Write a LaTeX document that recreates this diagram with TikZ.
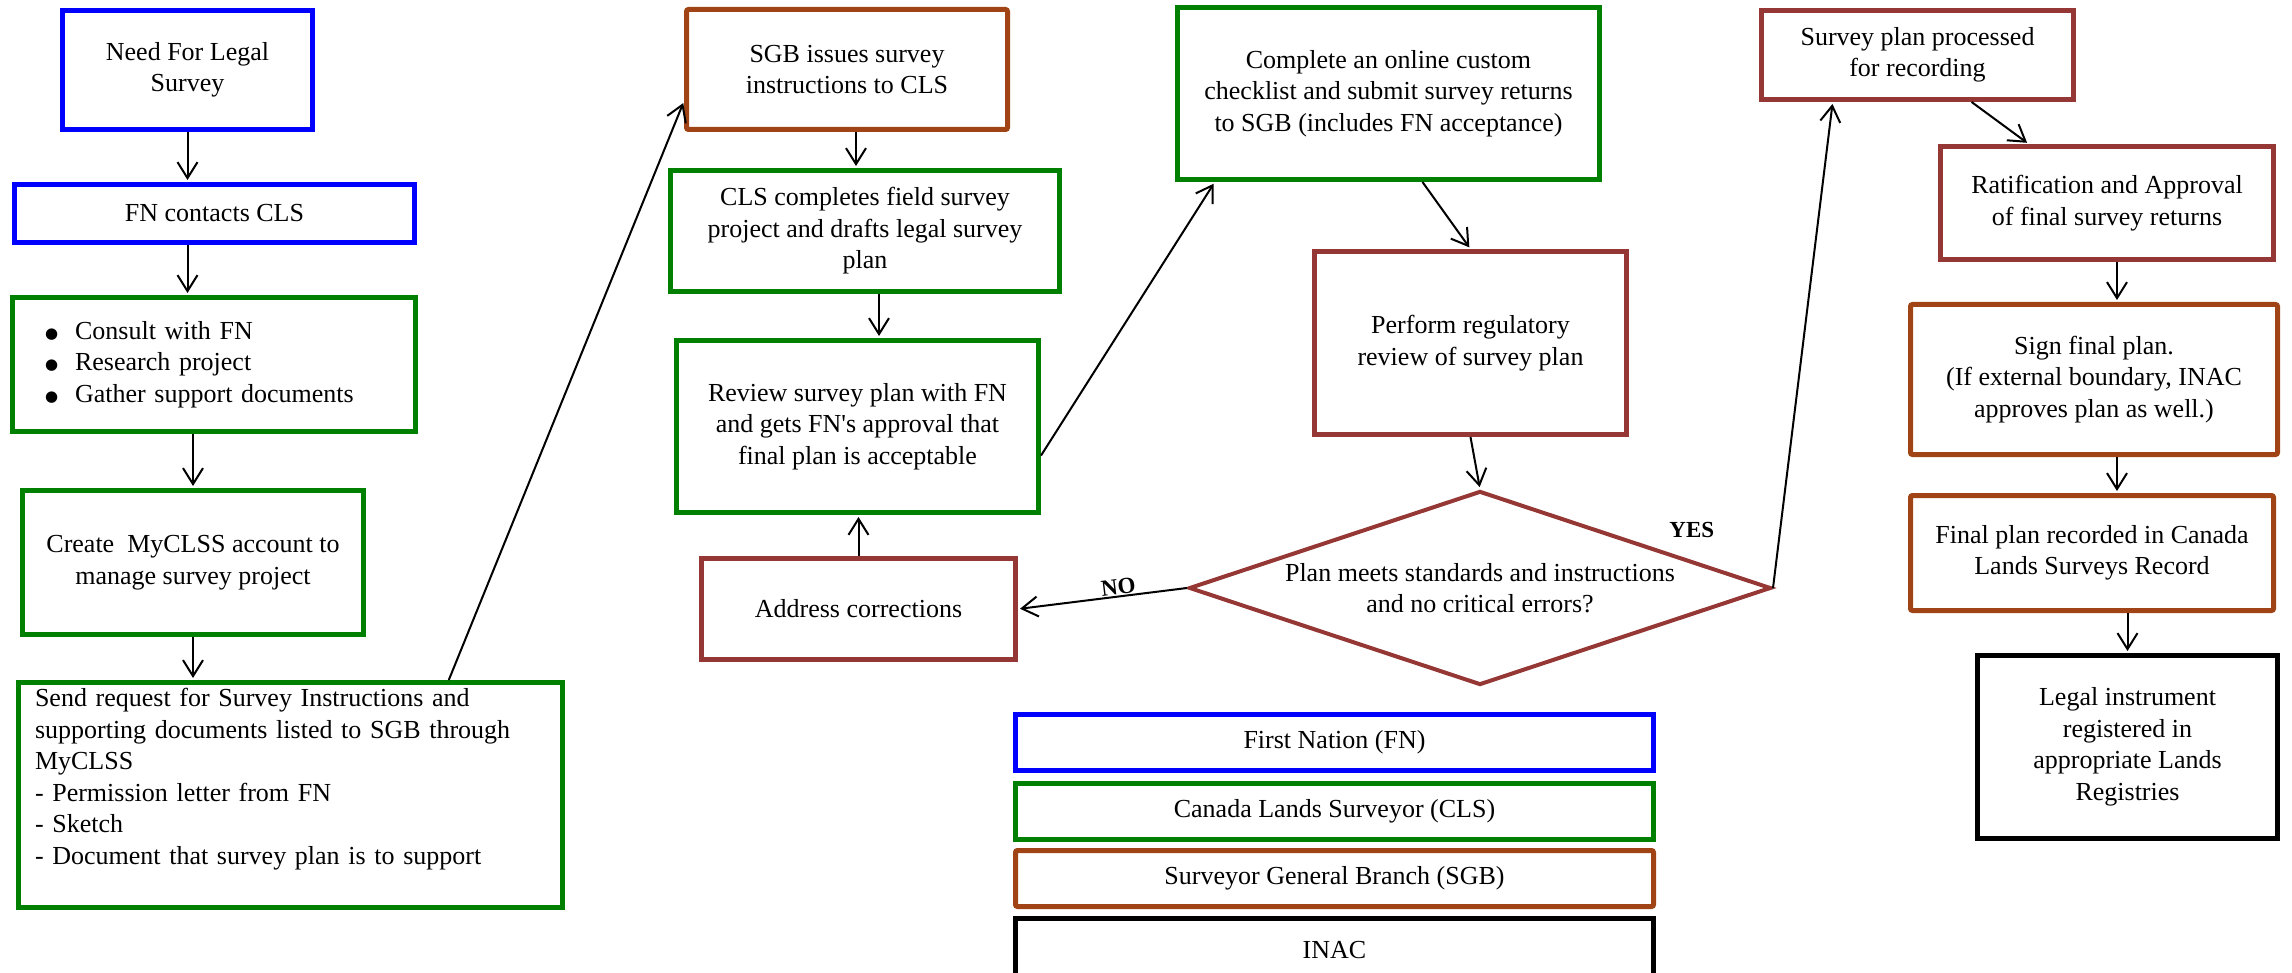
\documentclass[tikz,border=0pt]{standalone}
\usepackage{fontspec}
\setmainfont{Liberation Serif}
\newfontfamily\dotfont{DejaVu Sans}
\usepackage{tikz}
\usetikzlibrary{shapes.geometric}
\usetikzlibrary{arrows.meta}
\usetikzlibrary{positioning}
\usetikzlibrary{calc}

\definecolor{fnblue}{RGB}{0,0,255}
\definecolor{clsgreen}{RGB}{0,128,0}
\definecolor{sgbbrown}{RGB}{160,68,22}
\definecolor{revred}{RGB}{149,55,53}

\newcommand{\bigdot}{\raisebox{1pt}{\dotfont\fontsize{15}{0}\selectfont ●}\hspace{17pt}}

\begin{document}
\begin{tikzpicture}[x=1pt, y=-1pt,
    font=\fontsize{26}{31.5}\selectfont,
    box/.style={draw, line width=5pt, align=center, inner sep=0pt},
    fnbox/.style={box, draw=fnblue},
    clsbox/.style={box, draw=clsgreen},
    sgbbox/.style={box, draw=sgbbrown, rounded corners=2pt},
    revbox/.style={box, draw=revred},
    inacbox/.style={box, draw=black},
    flow/.style={line width=2pt, shorten >=2pt,
        -{Straight Barb[length=16pt, width=20pt]}},
    answer/.style={font=\fontsize{23}{27}\selectfont\bfseries, inner sep=1pt}]
    \useasboundingbox (0,0) rectangle (2292,973);

    \node[fnbox, minimum width=250pt, minimum height=119pt] (need) at (187.5,70) {Need For Legal\\Survey};
    \node[fnbox, minimum width=400pt, minimum height=58pt] (fncon) at (214.5,213.5) {FN contacts CLS};
    \node[clsbox, minimum width=403pt, minimum height=134pt, text width=338pt, align=left] (consult) at (214,364.5)
        {\bigdot Consult with FN\\\bigdot Research project\\\bigdot Gather support documents};
    \node[clsbox, minimum width=341pt, minimum height=144pt] (create) at (193,562.5) {Create\ \ MyCLSS account to\\manage survey project};
    \node[clsbox, minimum width=544pt, minimum height=225pt, text width=511pt, align=left, text depth=195pt] (send) at (290.5,795)
        {Send request for Survey Instructions and\\supporting documents listed to SGB through\\MyCLSS\\- Permission letter from FN\\- Sketch\\- Document that survey plan is to support};

    \node[sgbbox, minimum width=321pt, minimum height=120pt] (sgb) at (847,69.5) {SGB issues survey\\instructions to CLS};
    \node[clsbox, minimum width=389pt, minimum height=121pt] (clsdo) at (865,231) {CLS completes field survey\\project and drafts legal survey\\plan};
    \node[clsbox, minimum width=362pt, minimum height=172pt] (review) at (857.5,426.5) {Review survey plan with FN\\and gets FN\textquotesingle s approval that\\final plan is acceptable};
    \node[revbox, minimum width=314pt, minimum height=101pt] (address) at (858.5,609) {Address corrections};

    \node[clsbox, minimum width=422pt, minimum height=172pt] (complete) at (1388.5,93.5) {Complete an online custom\\checklist and submit survey returns\\to SGB (includes FN acceptance)};
    \node[revbox, minimum width=312pt, minimum height=183pt] (perform) at (1470.5,343) {Perform regulatory\\review of survey plan};
    \node[revbox, diamond, line width=4pt, aspect=2.9, minimum width=582pt, minimum height=194pt] (check) at (1480,588)
        {Plan meets standards and instructions\\and no critical errors?};

    \node[revbox, minimum width=312pt, minimum height=89pt] (proc) at (1917.5,55) {Survey plan processed\\for recording};
    \node[revbox, minimum width=333pt, minimum height=113pt] (ratif) at (2107,203) {Ratification and Approval\\of final survey returns};
    \node[sgbbox, minimum width=367pt, minimum height=150pt] (sign) at (2094,379.5) {Sign final plan.\\(If external boundary, INAC\\approves plan as well.)};
    \node[sgbbox, minimum width=363pt, minimum height=115pt] (final) at (2092,553) {Final plan recorded in Canada\\Lands Surveys Record};
    \node[inacbox, minimum width=300pt, minimum height=183pt] (legal) at (2127.5,747) {Legal instrument\\registered in\\appropriate Lands\\Registries};

    \node[fnbox, minimum width=638pt, minimum height=56pt] (keyfn) at (1334.5,742.5) {First Nation (FN)};
    \node[clsbox, minimum width=638pt, minimum height=56pt] (keycls) at (1334.5,811.5) {Canada Lands Surveyor (CLS)};
    \node[sgbbox, minimum width=638pt, minimum height=56pt] (keysgb) at (1334.5,878.5) {Surveyor General Branch (SGB)};
    \node[inacbox, minimum width=638pt, minimum height=64pt] (keyinac) at (1334.5,950) {INAC};

    \draw[flow] (need.south) -- (need.south |- fncon.north);
    \draw[flow] (need.south |- fncon.south) -- (need.south |- consult.north);
    \draw[flow] (create.north |- consult.south) -- (create.north);
    \draw[flow] (create.south) -- (create.south |- send.north);
    \draw[flow] (send.36) -- (sgb.191);
    \draw[flow] ([xshift=9pt]sgb.south) -- ([xshift=9pt]sgb.south |- clsdo.north);
    \draw[flow] ([xshift=14pt]clsdo.south) -- ([xshift=14pt]clsdo.south |- review.north);
    \draw[flow] (review.351) -- (complete.207);
    \draw[flow] (complete.291) -- (perform.north);
    \draw[flow] (perform.south) -- (check.north);
    \draw[flow] (check.west) -- node[answer, pos=.4, sloped, above] {NO} (address.east);
    \draw[flow] (address.north) -- (address.north |- review.south);
    \draw[flow] (check.east) -- node[answer, pos=.12, left=64pt] {YES} (proc.209);
    \draw[flow] (proc.319) -- (ratif.143);
    \draw[flow] ([xshift=10pt]ratif.south) -- ([xshift=10pt]ratif.south |- sign.north);
    \draw[flow] ([xshift=10pt]ratif.south |- sign.south) -- ([xshift=10pt]ratif.south |- final.north);
    \draw[flow] (final.south -| legal.north) -- (legal.north);
\end{tikzpicture}
\end{document}
